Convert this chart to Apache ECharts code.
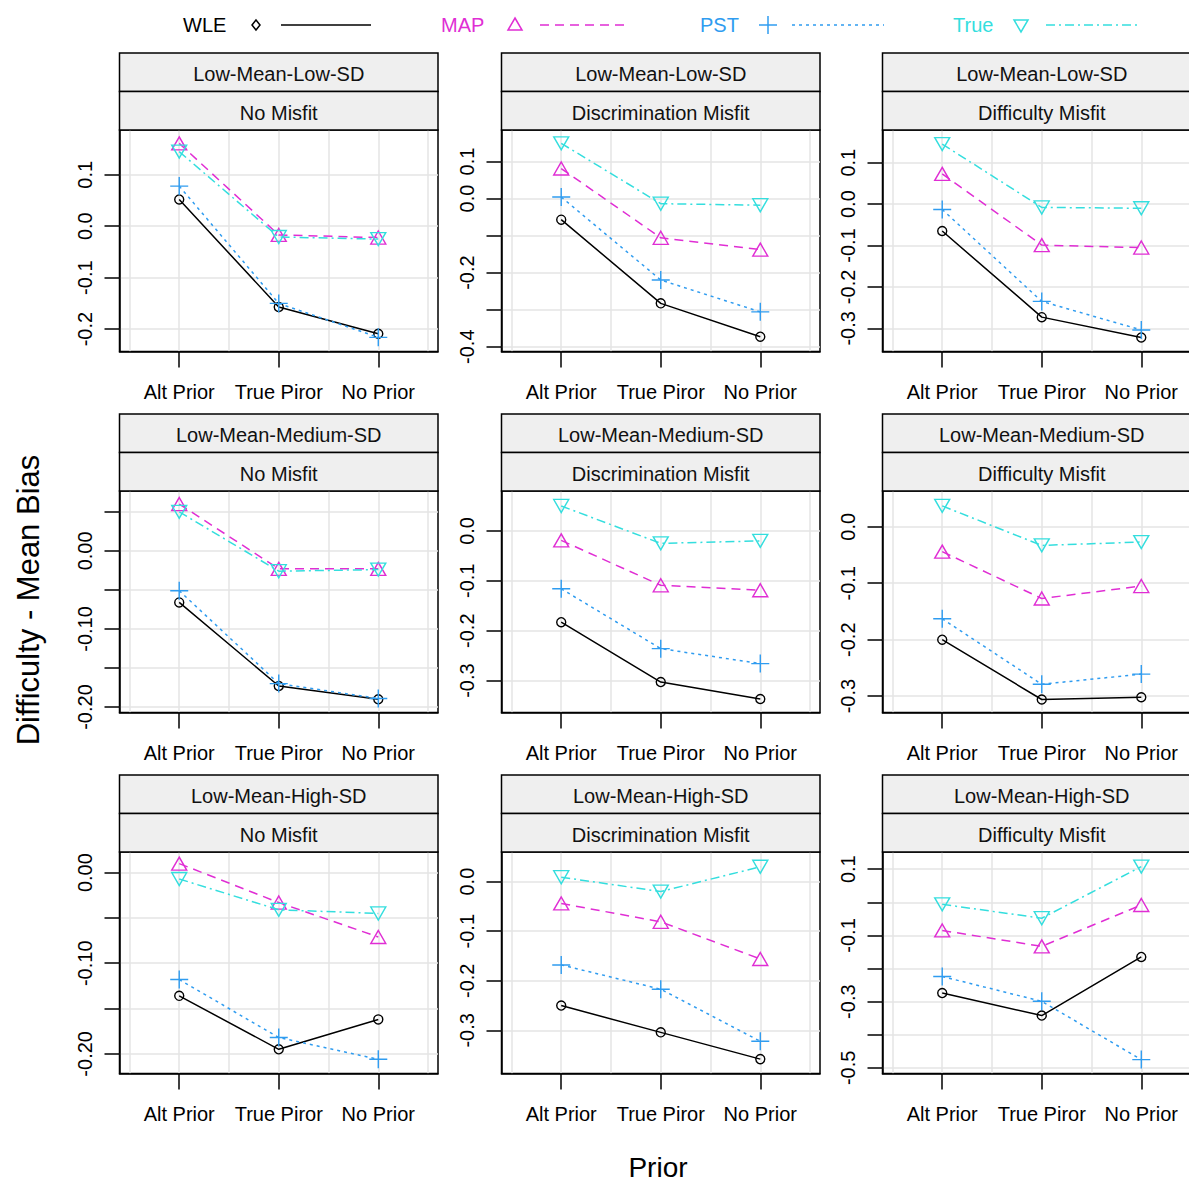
<!DOCTYPE html>
<html><head><meta charset="utf-8">
<script src="https://cdn.jsdelivr.net/npm/echarts@6/dist/echarts.min.js"></script>
<style>html,body{margin:0;padding:0;background:#fff}#c{width:1189px;height:1184px}</style>
</head><body><div id="c"></div>
<script>
// ---------------- DATA ----------------
const categories = ['Alt Prior', 'True Piror', 'No Prior'];
const rowLabels = ['Low-Mean-Low-SD', 'Low-Mean-Medium-SD', 'Low-Mean-High-SD'];
const colLabels = ['No Misfit', 'Discrimination Misfit', 'Difficulty Misfit'];
const methodNames = ['WLE', 'MAP', 'PST', 'True'];

// panels in row-major order (row = SD level, col = misfit type); values at the 3 priors
const wle = [
  [0.052, -0.157, -0.209], [-0.057, -0.283, -0.373], [-0.065, -0.273, -0.322],
  [-0.066, -0.173, -0.190], [-0.183, -0.303, -0.337], [-0.200, -0.306, -0.302],
  [-0.136, -0.195, -0.162], [-0.250, -0.304, -0.358], [-0.274, -0.342, -0.165]
];
const map = [
  [0.161, -0.017, -0.022], [0.081, -0.106, -0.138], [0.073, -0.099, -0.105],
  [0.060, -0.023, -0.023], [-0.019, -0.109, -0.119], [-0.044, -0.127, -0.105],
  [0.010, -0.033, -0.071], [-0.044, -0.081, -0.156], [-0.085, -0.133, -0.008]
];
const pst = [
  [0.078, -0.150, -0.216], [0.004, -0.220, -0.306], [-0.013, -0.235, -0.304],
  [-0.051, -0.170, -0.189], [-0.116, -0.236, -0.266], [-0.163, -0.279, -0.261],
  [-0.118, -0.182, -0.206], [-0.168, -0.217, -0.322], [-0.224, -0.299, -0.475]
];
const tru = [
  [0.145, -0.021, -0.025], [0.149, -0.014, -0.018], [0.145, -0.008, -0.010],
  [0.050, -0.026, -0.024], [0.050, -0.025, -0.020], [0.037, -0.033, -0.027],
  [-0.007, -0.041, -0.045], [0.009, -0.020, 0.030], [-0.006, -0.048, 0.108]
];

// y axis limits, ticks and labelled ticks per panel
const yLimits = [
  [-0.2435, 0.187], [-0.413, 0.185], [-0.356, 0.179],
  [-0.207, 0.0767], [-0.364, 0.080], [-0.329, 0.0634],
  [-0.2217, 0.0228], [-0.387, 0.0598], [-0.517, 0.152]
];
const yTicks = [
  [-0.2, -0.1, 0, 0.1], [-0.4, -0.3, -0.2, -0.1, 0, 0.1], [-0.3, -0.2, -0.1, 0, 0.1],
  [-0.2, -0.15, -0.1, -0.05, 0, 0.05], [-0.3, -0.2, -0.1, 0], [-0.3, -0.2, -0.1, 0],
  [-0.2, -0.15, -0.1, -0.05, 0], [-0.3, -0.2, -0.1, 0], [-0.5, -0.4, -0.3, -0.2, -0.1, 0, 0.1]
];
const yTickLabels = [
  [-0.2, -0.1, 0, 0.1], [-0.4, -0.2, 0, 0.1], [-0.3, -0.2, -0.1, 0, 0.1],
  [-0.2, -0.1, 0], [-0.3, -0.2, -0.1, 0], [-0.3, -0.2, -0.1, 0],
  [-0.2, -0.1, 0], [-0.3, -0.2, -0.1, 0], [-0.5, -0.3, -0.1, 0.1]
];
const yDecimals = [1, 1, 1, 2, 1, 1, 2, 1, 1];

// ---------------- STYLE / LAYOUT ----------------
const FONT = 'Liberation Sans, Arial, sans-serif';
const colLeft = [119.5, 501.5, 882.5];
const plotW = 318.5;
const rowTop = [130, 491, 852];
const plotH = 221.5;
const stripH = 38.5;

const PLUS = 'path://M0,-1 L0,1 M-1,0 L1,0';
const DOWNTRI = 'path://M-1,-0.87 L1,-0.87 L0,0.87 Z';
const methodStyles = [
  { color: '#000000', type: 'solid', symbol: 'circle', size: 9 },
  { color: '#e02ed4', type: [9, 6], symbol: 'triangle', size: [15, 13] },
  { color: '#2f9cf0', type: [3, 4], symbol: PLUS, size: 18 },
  { color: '#34dede', type: [9, 4, 2, 4], symbol: DOWNTRI, size: [15, 13] }
];
const methodData = [wle, map, pst, tru];

const grids = [], xAxes = [], yAxes = [], series = [], graphics = [];

for (let r = 0; r < 3; r++) {
  for (let c = 0; c < 3; c++) {
    const p = r * 3 + c;
    grids.push({
      left: colLeft[c], top: rowTop[r], width: plotW, height: plotH,
      show: true, borderColor: '#000', borderWidth: 1.5, backgroundColor: '#fff',
      containLabel: false, outerBoundsMode: 'none'
    });
    // visible x axis
    xAxes.push({
      type: 'value', gridIndex: p, min: 0.4, max: 3.6, position: 'bottom',
      axisLine: { show: true, onZero: false, lineStyle: { color: '#000', width: 1.5 } },
      axisTick: { show: true, length: 16, customValues: [1, 2, 3], lineStyle: { color: '#000', width: 1.5 } },
      axisLabel: {
        show: true, customValues: [1, 2, 3], margin: 30, fontSize: 20, fontFamily: FONT, color: '#000',
        formatter: v => categories[Math.round(v) - 1]
      },
      splitLine: { show: false }
    });
    // hidden x axis for vertical grid lines
    xAxes.push({
      type: 'value', gridIndex: p, min: 0.4, max: 3.6, position: 'top',
      axisLine: { show: false, onZero: false },
      axisTick: { show: false, customValues: [0.5, 1, 1.5, 2, 2.5, 3, 3.5] },
      axisLabel: { show: false },
      splitLine: { show: true, lineStyle: { color: '#e4e4e4', width: 1.5 } }
    });
    const dec = yDecimals[p];
    yAxes.push({
      type: 'value', gridIndex: p, min: yLimits[p][0], max: yLimits[p][1], position: 'left',
      axisLine: { show: true, onZero: false, lineStyle: { color: '#000', width: 1.5 } },
      axisTick: { show: true, length: 15, customValues: yTicks[p], lineStyle: { color: '#000', width: 1.5 } },
      axisLabel: {
        show: true, customValues: yTickLabels[p], rotate: 90, margin: 25, fontSize: 20, fontFamily: FONT,
        color: '#000', hideOverlap: false,
        formatter: v => (Math.abs(v) < 1e-9 ? 0 : v).toFixed(dec)
      },
      splitLine: { show: true, lineStyle: { color: '#e4e4e4', width: 1.5 } }
    });
    for (let m = 0; m < 4; m++) {
      const st = methodStyles[m];
      series.push({
        type: 'line', name: methodNames[m], xAxisIndex: p * 2, yAxisIndex: p,
        data: methodData[m][p].map((v, i) => [i + 1, v]),
        symbol: st.symbol, symbolSize: st.size, showSymbol: true,
        lineStyle: { color: st.color, width: 1.5, type: st.type },
        itemStyle: { color: 'rgba(0,0,0,0)', borderColor: st.color, borderWidth: 1.4 },
        emphasis: { disabled: true }, animation: false, z: 3 + m
      });
    }
    // strips
    const labs = [rowLabels[r], colLabels[c]];
    for (let s = 0; s < 2; s++) {
      const y0 = rowTop[r] - stripH * (2 - s);
      graphics.push({
        type: 'rect', shape: { x: colLeft[c], y: y0, width: plotW, height: stripH },
        style: { fill: '#efefef', stroke: '#000', lineWidth: 1.5 }, z: 10
      });
      graphics.push({
        type: 'text', x: colLeft[c] + plotW / 2, y: y0 + stripH / 2 + 2,
        style: { text: labs[s], fill: '#111', font: '20px ' + FONT, textAlign: 'center', textVerticalAlign: 'middle' }, z: 11
      });
    }
  }
}

// legend (key)
const legendPos = [
  { tx: 183, mx: 256, l0: 281, l1: 371 },
  { tx: 441, mx: 515, l0: 540, l1: 628 },
  { tx: 700, mx: 768, l0: 792, l1: 884 },
  { tx: 953, mx: 1021, l0: 1046, l1: 1137 }
];
const LY = 25;
legendPos.forEach((lp, m) => {
  const st = methodStyles[m];
  graphics.push({ type: 'text', x: lp.tx, y: LY,
    style: { text: methodNames[m], fill: st.color, font: '20px ' + FONT, textAlign: 'left', textVerticalAlign: 'middle' } });
  let marker;
  if (m === 0) marker = { type: 'polygon', shape: { points: [[lp.mx, LY - 5], [lp.mx + 4, LY], [lp.mx, LY + 5], [lp.mx - 4, LY]] } };
  else if (m === 1) marker = { type: 'polygon', shape: { points: [[lp.mx, LY - 7], [lp.mx + 7, LY + 5], [lp.mx - 7, LY + 5]] } };
  else if (m === 2) marker = { type: 'polyline', shape: { points: [[lp.mx - 9, LY], [lp.mx + 9, LY]] } };
  else marker = { type: 'polygon', shape: { points: [[lp.mx - 7, LY - 5], [lp.mx + 7, LY - 5], [lp.mx, LY + 7]] } };
  marker.style = { fill: 'none', stroke: st.color, lineWidth: 1.5 };
  graphics.push(marker);
  if (m === 2) graphics.push({ type: 'line', shape: { x1: lp.mx, y1: LY - 9, x2: lp.mx, y2: LY + 9 }, style: { stroke: st.color, lineWidth: 1.5 } });
  graphics.push({ type: 'line', shape: { x1: lp.l0, y1: LY, x2: lp.l1, y2: LY },
    style: { stroke: st.color, lineWidth: 1.5, lineDash: st.type === 'solid' ? null : st.type } });
});

// axis titles
graphics.push({ type: 'text', x: 28, y: 600, rotation: Math.PI / 2,
  style: { text: 'Difficulty - Mean Bias', fill: '#000', font: '31px ' + FONT, textAlign: 'center', textVerticalAlign: 'middle' } });
graphics.push({ type: 'text', x: 658, y: 1167,
  style: { text: 'Prior', fill: '#000', font: '28px ' + FONT, textAlign: 'center', textVerticalAlign: 'middle' } });

const chart = echarts.init(document.getElementById('c'), null, { renderer: 'svg' });
chart.setOption({
  animation: false,
  backgroundColor: '#fff',
  grid: grids, xAxis: xAxes, yAxis: yAxes, series: series,
  graphic: { elements: graphics }
});
</script>
</body></html>
